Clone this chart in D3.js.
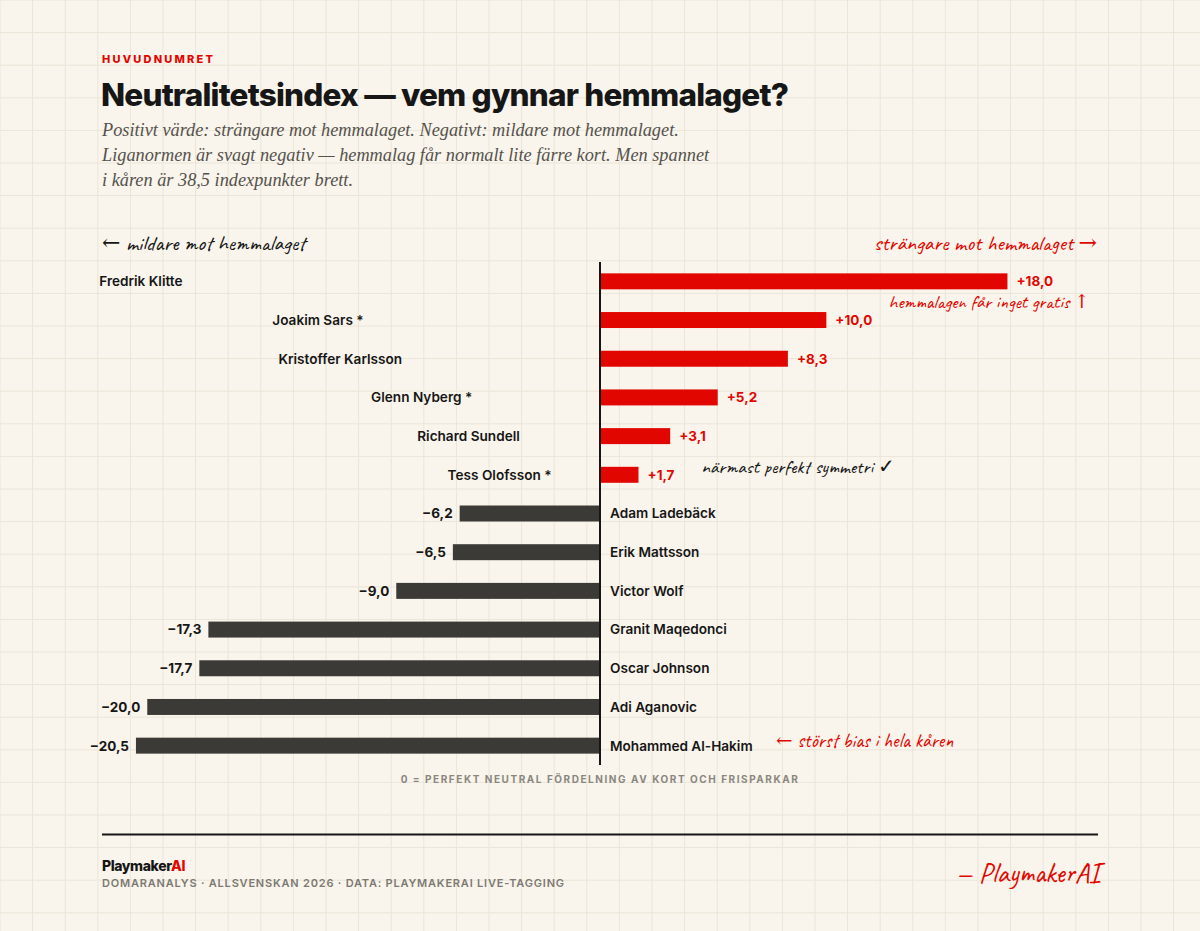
<!DOCTYPE html>
<html>
<head>
<meta charset="utf-8">
<script src="https://cdn.jsdelivr.net/npm/d3@7"></script>
<style>
  body { margin: 0; background: #f9f5ec; }
  svg { display: block; }
  .sans { font-family: Inter, "Noto Sans", sans-serif; }
  .hand { font-family: Caveat, "Segoe Print", "Comic Sans MS", "DejaVu Serif", cursive; }
</style>
</head>
<body>
<svg id="chart" width="1200" height="931"></svg>
<script>
// data
const names = ["Fredrik Klitte", "Joakim Sars *", "Kristoffer Karlsson", "Glenn Nyberg *",
  "Richard Sundell", "Tess Olofsson *", "Adam Ladebäck", "Erik Mattsson", "Victor Wolf",
  "Granit Maqedonci", "Oscar Johnson", "Adi Aganovic", "Mohammed Al-Hakim"];
const values = [18.0, 10.0, 8.3, 5.2, 3.1, 1.7, -6.2, -6.5, -9.0, -17.3, -17.7, -20.0, -20.5];
const subtitle = [
  "Positivt värde: strängare mot hemmalaget. Negativt: mildare mot hemmalaget.",
  "Liganormen är svagt negativ — hemmalag får normalt lite färre kort. Men spannet",
  "i kåren är 38,5 indexpunkter brett."
];

let svg = d3.select("#chart");
let W = +svg.attr("width"), H = +svg.attr("height");
let red = "#e10600", dark = "#3b3a37", ink = "#161616";

// background grid
let grid = 32.6;
let bg = svg.append("g");
bg.append("rect").attr("width", W).attr("height", H).attr("fill", "#f9f5ec");
for (let x = 0; x <= W; x += grid) {
  bg.append("line").attr("x1", x).attr("x2", x).attr("y1", 0).attr("y2", H)
    .attr("stroke", "#ebe5d8").attr("stroke-width", 1);
}
for (let y = 0; y <= H; y += grid) {
  bg.append("line").attr("y1", y).attr("y2", y).attr("x1", 0).attr("x2", W)
    .attr("stroke", "#ebe5d8").attr("stroke-width", 1);
}

// header
svg.append("text").attr("class", "sans").attr("x", 102).attr("y", 63)
  .attr("fill", red).attr("font-size", 11).attr("font-weight", 800)
  .attr("letter-spacing", 2.2).text("HUVUDNUMRET");
svg.append("text").attr("class", "sans").attr("x", 101).attr("y", 106)
  .attr("fill", ink).attr("font-size", 31.5).attr("font-weight", 800)
  .attr("letter-spacing", -0.8).text("Neutralitetsindex — vem gynnar hemmalaget?");
svg.append("g").selectAll("text").data(subtitle).enter().append("text")
  .attr("x", 102).attr("y", (d, i) => 136 + i * 25)
  .attr("font-family", "'Liberation Serif', 'DejaVu Serif', serif")
  .attr("font-style", "italic").attr("font-size", 18.3).attr("fill", "#55524c")
  .text(d => d);

// scales
let xScale = d3.scaleLinear().domain([-22, 22]).range([102, 1098]);
let yScale = d3.scaleBand().domain(names).range([262, 765])
  .paddingInner(0.587).paddingOuter(0.2935);
let bw = yScale.bandwidth();
let data = names.map((n, i) => ({ name: n, v: values[i] }));
let fmt = v => (v > 0 ? "+" : "−") + d3.format(".1f")(Math.abs(v)).replace(".", ",");

let g = svg.append("g");
g.selectAll(".bar").data(data).enter().append("rect")
  .attr("class", "bar")
  .attr("x", d => xScale(Math.min(0, d.v)))
  .attr("y", d => yScale(d.name))
  .attr("width", d => Math.abs(xScale(d.v) - xScale(0)))
  .attr("height", bw)
  .attr("fill", d => d.v > 0 ? red : dark);

// value labels
g.selectAll(".val").data(data).enter().append("text")
  .attr("class", "sans val")
  .attr("x", d => d.v > 0 ? xScale(d.v) + 9 : xScale(d.v) - 7)
  .attr("y", d => yScale(d.name) + bw / 2)
  .attr("dy", "0.36em")
  .attr("text-anchor", d => d.v > 0 ? "start" : "end")
  .attr("font-size", 13.5).attr("font-weight", 700)
  .attr("fill", d => d.v > 0 ? red : ink)
  .text(d => fmt(d.v));

// name labels (mirrored side)
g.selectAll(".name").data(data).enter().append("text")
  .attr("class", "sans name")
  .attr("x", d => d.v > 0 ? xScale(-d.v) - 10 : xScale(0) + 10)
  .attr("y", d => yScale(d.name) + bw / 2)
  .attr("dy", "0.36em")
  .attr("text-anchor", d => d.v > 0 ? "end" : "start")
  .attr("font-size", 13.6).attr("font-weight", 600)
  .attr("fill", ink)
  .text(d => d.name);

// zero line
g.append("line").attr("x1", xScale(0)).attr("x2", xScale(0))
  .attr("y1", 262).attr("y2", 765)
  .attr("stroke", ink).attr("stroke-width", 2);

// annotations
let hand = (x, y, txt, col, size, anchor) =>
  svg.append("text").attr("class", "hand").attr("x", x).attr("y", y)
    .attr("fill", col).attr("font-size", size).attr("text-anchor", anchor || "start")
    .text(txt);
hand(102, 250, "← mildare mot hemmalaget", ink, 22);
hand(1097, 250, "strängare mot hemmalaget →", red, 22, "end");
hand(1090, 308, "hemmalagen får inget gratis ↑", red, 19, "end");
hand(701, 473, "närmast perfekt symmetri ✓", ink, 19.5);
hand(776, 747, "← störst bias i hela kåren", red, 19.8);

svg.append("text").attr("class", "sans").attr("x", xScale(0)).attr("y", 783)
  .attr("text-anchor", "middle").attr("font-size", 10).attr("font-weight", 700)
  .attr("letter-spacing", 1.55).attr("fill", "#8a8780")
  .text("0 = PERFEKT NEUTRAL FÖRDELNING AV KORT OCH FRISPARKAR");

// footer
svg.append("line").attr("x1", 102).attr("x2", 1098).attr("y1", 834.5).attr("y2", 834.5)
  .attr("stroke", ink).attr("stroke-width", 2);
let brand = svg.append("text").attr("class", "sans").attr("x", 102).attr("y", 871)
  .attr("font-size", 14).attr("font-weight", 800).attr("letter-spacing", -0.4);
brand.append("tspan").attr("fill", ink).text("Playmaker");
brand.append("tspan").attr("fill", red).text("AI");
svg.append("text").attr("class", "sans").attr("x", 102).attr("y", 887)
  .attr("font-size", 11).attr("font-weight", 600).attr("letter-spacing", 0.8)
  .attr("fill", "#7c7972")
  .text("DOMARANALYS · ALLSVENSKAN 2026 · DATA: PLAYMAKERAI LIVE-TAGGING");
hand(1100, 882, "— PlaymakerAI", red, 28, "end");
</script>
</body>
</html>
